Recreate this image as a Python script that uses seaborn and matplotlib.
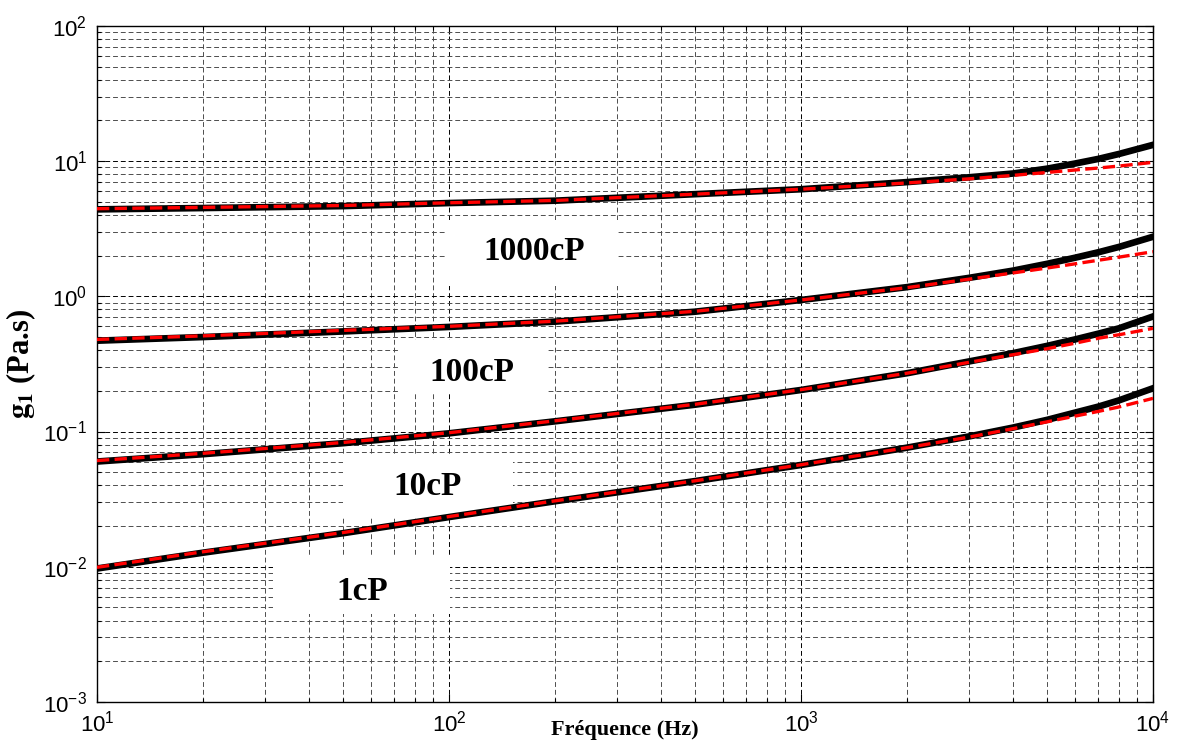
import numpy as np
import pandas as pd
import matplotlib
matplotlib.use("Agg")
import matplotlib.pyplot as plt
from matplotlib.patches import Rectangle
from matplotlib.ticker import LogLocator, NullFormatter
import seaborn as sns

# Frequencies (Hz) where the curves were read
freq = [10, 20, 50, 100, 200, 500, 1000, 2000, 3000, 4000, 5000, 6000, 7000, 8000, 10000]

# g1 (Pa.s) - measured (black) and model (red dashed), one pair per viscosity
g1_1000_meas = [4.4, 4.5, 4.65, 4.9, 5.1, 5.7, 6.2, 7.0, 7.6, 8.1, 8.8, 9.6, 10.4, 11.3, 13.2]
g1_1000_model = [4.45, 4.55, 4.7, 4.92, 5.12, 5.7, 6.2, 6.9, 7.4, 7.85, 8.25, 8.6, 8.9, 9.2, 9.8]
g1_100_meas = [0.47, 0.50, 0.55, 0.594, 0.65, 0.77, 0.94, 1.17, 1.37, 1.55, 1.74, 1.93, 2.12, 2.32, 2.76]
g1_100_model = [0.48, 0.51, 0.56, 0.60, 0.655, 0.775, 0.94, 1.16, 1.34, 1.49, 1.62, 1.74, 1.85, 1.95, 2.14]
g1_10_meas = [0.060, 0.068, 0.082, 0.097, 0.119, 0.158, 0.203, 0.27, 0.33, 0.38, 0.43, 0.48, 0.53, 0.58, 0.71]
g1_10_model = [0.061, 0.069, 0.083, 0.098, 0.12, 0.159, 0.204, 0.27, 0.325, 0.37, 0.41, 0.45, 0.49, 0.52, 0.58]
g1_1_meas = [0.0097, 0.0127, 0.0177, 0.0233, 0.0305, 0.043, 0.0566, 0.076, 0.092, 0.107, 0.122, 0.138, 0.153, 0.170, 0.209]
g1_1_model = [0.0099, 0.0129, 0.0179, 0.0235, 0.0307, 0.0432, 0.0568, 0.076, 0.091, 0.105, 0.118, 0.130, 0.141, 0.152, 0.176]

labels = ["1000cP", "100cP", "10cP", "1cP"]
meas = [g1_1000_meas, g1_100_meas, g1_10_meas, g1_1_meas]
model = [g1_1000_model, g1_100_model, g1_10_model, g1_1_model]

# label placement (axes fraction): text centre and white box (x0, y0, x1, y1)
label_xy = [(0.414, 0.666), (0.355, 0.488), (0.313, 0.318), (0.251, 0.164)]
label_box = [(0.331, 0.615, 0.493, 0.713), (0.287, 0.457, 0.427, 0.536),
             (0.233, 0.275, 0.394, 0.365), (0.167, 0.130, 0.334, 0.217)]

plt.rcParams["mathtext.fontset"] = "stix"

fig = plt.figure(figsize=(11.78, 7.42), dpi=100)
ax = fig.add_axes([0.0823, 0.054, 0.8965, 0.911])

# Curves
for m, r in zip(meas, model):
    sns.lineplot(x=freq, y=m, color="black", linewidth=4.8, ax=ax, zorder=3)
    sns.lineplot(x=freq, y=r, color="red", linewidth=2.4, linestyle="--", ax=ax, zorder=4)

ax.set_xscale("log")
ax.set_yscale("log")
ax.set_xlim(10, 1e4)
ax.set_ylim(1e-3, 1e2)

ax.xaxis.set_major_locator(LogLocator(base=10, numticks=10))
ax.yaxis.set_major_locator(LogLocator(base=10, numticks=10))
ax.xaxis.set_minor_locator(LogLocator(base=10, subs=np.arange(2, 10), numticks=20))
ax.yaxis.set_minor_locator(LogLocator(base=10, subs=np.arange(2, 10), numticks=20))
ax.xaxis.set_minor_formatter(NullFormatter())
ax.yaxis.set_minor_formatter(NullFormatter())

# MATLAB-like dashed grid
ax.set_axisbelow(True)
ax.grid(which="major", color="black", linestyle=(0, (5, 3)), linewidth=0.7)
ax.grid(which="minor", color="0.3", linestyle=(0, (5, 3)), linewidth=0.7)

ax.tick_params(which="both", direction="in", top=True, right=True, width=0.8)
ax.tick_params(which="major", length=6, labelsize=16)
ax.tick_params(which="minor", length=3)
ax.tick_params(axis="y", pad=7)
ax.tick_params(axis="x", pad=6)
for lab in ax.get_xticklabels() + ax.get_yticklabels():
    lab.set_fontfamily("Liberation Sans")
for s in ax.spines.values():
    s.set_linewidth(1.0)

# White boxes + viscosity labels
for txt, (tx, ty), (x0, y0, x1, y1) in zip(labels, label_xy, label_box):
    ax.add_patch(Rectangle((x0, y0), x1 - x0, y1 - y0, transform=ax.transAxes,
                           facecolor="white", edgecolor="none", zorder=1))
    ax.text(tx, ty, txt, transform=ax.transAxes, ha="center", va="center",
            fontsize=24, fontweight="bold", family="Liberation Serif", zorder=5)

ax.set_xlabel("Fréquence (Hz)", fontsize=16, fontweight="bold",
              family="Liberation Serif")
ax.xaxis.set_label_coords(0.5, -0.027)
ax.set_ylabel(r"$\mathbf{g_1}$ (Pa.s)", fontsize=22, fontweight="bold",
              family="Liberation Serif", labelpad=4)

fig.savefig("out.png", dpi=100)
